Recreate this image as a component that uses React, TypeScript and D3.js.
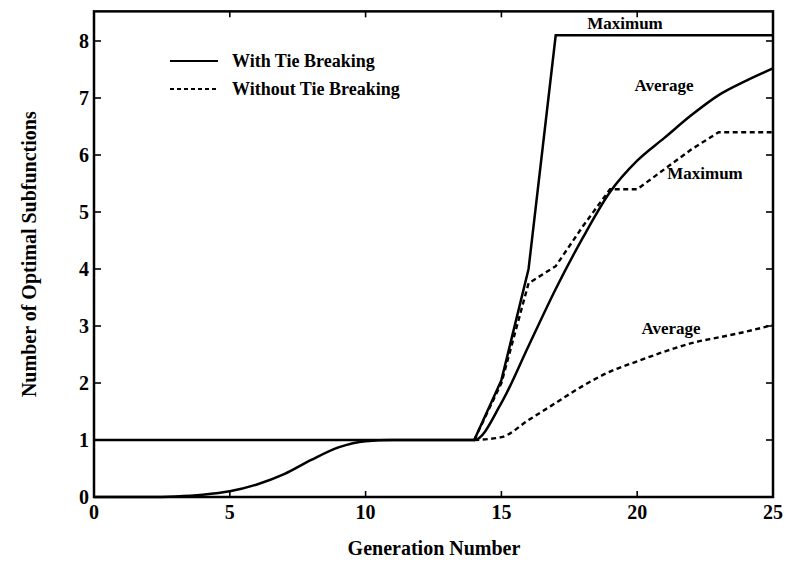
import React from "react";
import * as d3 from "d3";

// generation numbers 0..25
const generations = d3.range(0, 26);

// with tie breaking
const maxWithTie = [1, 1, 1, 1, 1, 1, 1, 1, 1, 1, 1, 1, 1, 1, 1, 2.05, 4, 8.1, 8.1, 8.1, 8.1, 8.1, 8.1, 8.1, 8.1, 8.1];
const avgWithTie = [0, 0, 0, 0.01, 0.04, 0.1, 0.22, 0.4, 0.65, 0.87, 0.98, 1, 1, 1, 1, 1.65, 2.65, 3.65, 4.55, 5.35, 5.9, 6.3, 6.7, 7.05, 7.3, 7.52];

// without tie breaking (hidden under the solid curves before generation 14)
const maxNoTie = [null, null, null, null, null, null, null, null, null, null, null, null, null, null, 1, 2.0, 3.75, 4.05, 4.75, 5.4, 5.4, 5.75, 6.1, 6.4, 6.4, 6.4];
const avgNoTie = [null, null, null, null, null, null, null, null, null, null, null, null, null, null, 1, 1.05, 1.35, 1.65, 1.95, 2.2, 2.38, 2.55, 2.7, 2.8, 2.9, 3.02];

const xTicks = [0, 5, 10, 15, 20, 25];
const yTicks = [0, 1, 2, 3, 4, 5, 6, 7, 8];

const W = 787;
const H = 565;
const FONT = "'Liberation Serif', 'Times New Roman', serif";

export default function App() {
  const x = d3.scaleLinear().domain([0, 25]).range([94, 773]);
  const y = d3.scaleLinear().domain([0, 8]).range([497, 41]);
  const top = y(8.52);

  const makeLine = (curve: d3.CurveFactory) =>
    d3
      .line<number | null>()
      .defined((d) => d != null)
      .x((_, i) => x(generations[i]))
      .y((d) => y(d as number))
      .curve(curve);
  const line = makeLine(d3.curveLinear);
  const smooth = makeLine(d3.curveMonotoneX);

  const dash = "5,3.5";

  return (
    <svg
      width={W}
      height={H}
      style={{ position: "absolute", left: 0, top: 0, background: "#fff" }}
      fontFamily={FONT}
    >
      <rect width={W} height={H} fill="#fff" />

      {/* frame */}
      <rect
        x={x(0)}
        y={top}
        width={x(25) - x(0)}
        height={y(0) - top}
        fill="none"
        stroke="#000"
        strokeWidth={2.5}
      />

      {/* ticks, inward on all four sides */}
      {xTicks.slice(1, -1).map((t) => (
        <g key={"xt" + t} stroke="#000" strokeWidth={1.6}>
          <line x1={x(t)} x2={x(t)} y1={y(0)} y2={y(0) - 6} />
          <line x1={x(t)} x2={x(t)} y1={top} y2={top + 6} />
        </g>
      ))}
      {yTicks.slice(1).map((t) => (
        <g key={"yt" + t} stroke="#000" strokeWidth={1.6}>
          <line x1={x(0)} x2={x(0) + 7} y1={y(t)} y2={y(t)} />
          <line x1={x(25)} x2={x(25) - 7} y1={y(t)} y2={y(t)} />
        </g>
      ))}

      {/* tick labels */}
      {xTicks.map((t) => (
        <text
          key={"xl" + t}
          x={x(t)}
          y={y(0) + 22}
          textAnchor="middle"
          fontSize={20}
          fontWeight="bold"
        >
          {t}
        </text>
      ))}
      {yTicks.map((t) => (
        <text
          key={"yl" + t}
          x={x(0) - 5}
          y={y(t) + 7}
          textAnchor="end"
          fontSize={20}
          fontWeight="bold"
        >
          {t}
        </text>
      ))}

      {/* series */}
      <path d={line(maxNoTie) || ""} fill="none" stroke="#000" strokeWidth={2.4} strokeDasharray={dash} />
      <path d={smooth(avgNoTie) || ""} fill="none" stroke="#000" strokeWidth={2.4} strokeDasharray={dash} />
      <path d={line(maxWithTie) || ""} fill="none" stroke="#000" strokeWidth={2.5} />
      <path d={smooth(avgWithTie) || ""} fill="none" stroke="#000" strokeWidth={2.5} />

      {/* curve labels */}
      <g fontSize={17} fontWeight="bold" textAnchor="middle">
        <text x={625} y={29}>Maximum</text>
        <text x={664} y={91}>Average</text>
        <text x={705} y={179}>Maximum</text>
        <text x={671} y={334}>Average</text>
      </g>

      {/* legend */}
      <line x1={170} x2={218} y1={61} y2={61} stroke="#000" strokeWidth={2} />
      <line x1={170} x2={218} y1={89} y2={89} stroke="#000" strokeWidth={2} strokeDasharray="4,3" />
      <g fontSize={18} fontWeight="bold">
        <text x={232} y={67}>With Tie Breaking</text>
        <text x={232} y={95}>Without Tie Breaking</text>
      </g>

      {/* axis titles */}
      <text x={434} y={555} textAnchor="middle" fontSize={20} fontWeight="bold">
        Generation Number
      </text>
      <text
        transform={`translate(36,${(top + y(0)) / 2}) rotate(-90)`}
        textAnchor="middle"
        fontSize={20}
        fontWeight="bold"
      >
        Number of Optimal Subfunctions
      </text>
    </svg>
  );
}
